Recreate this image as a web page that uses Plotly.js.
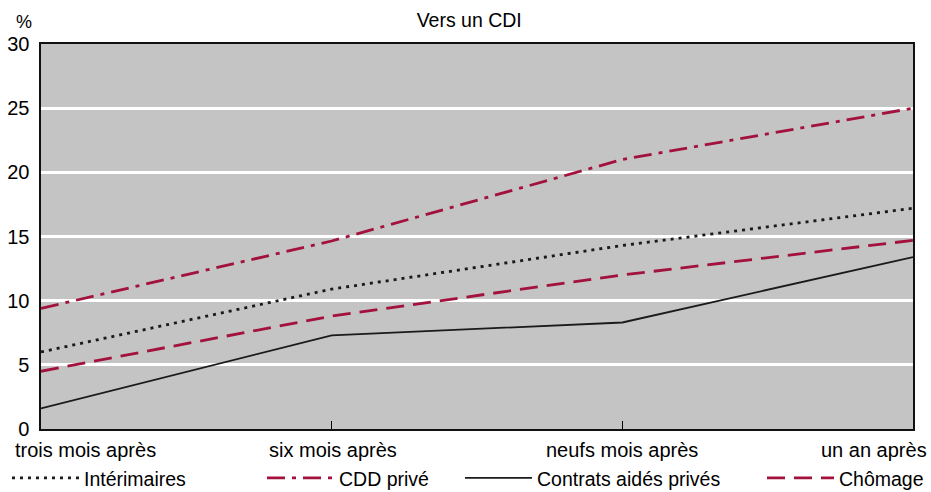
<!DOCTYPE html>
<html><head><meta charset="utf-8">
<script src="https://cdn.plot.ly/plotly-3.0.1.min.js"></script>
<style>body{margin:0;background:#fff}#c{width:931px;height:492px}</style>
</head><body><div id="c"></div>
<script>
const categories = ["trois mois après","six mois après","neufs mois après","un an après"];
const interimaires = [6.0, 10.9, 14.3, 17.2];
const cddPrive = [9.4, 14.65, 21.0, 25.0];
const contratsAides = [1.6, 7.3, 8.3, 13.4];
const chomage = [4.5, 8.8, 12.0, 14.7];
const yTicks = [0,5,10,15,20,25,30];

const red = '#A3113D';
const xs = categories.map((c,i)=>i);
const traces = [
 {x:xs,y:interimaires,name:'Intérimaires',mode:'lines',legend:'legend',line:{color:'#1a1a1a',width:2.8,dash:'3px,5px'}},
 {x:xs,y:cddPrive,name:'CDD privé',mode:'lines',legend:'legend2',line:{color:red,width:2.8,dash:'18px,7px,4px,7px'}},
 {x:xs,y:contratsAides,name:'Contrats aidés privés',mode:'lines',legend:'legend3',line:{color:'#1a1a1a',width:1.8}},
 {x:xs,y:chomage,name:'Chômage',mode:'lines',legend:'legend4',line:{color:red,width:2.8,dash:'18px,9px'}}
];
const F = 'Liberation Sans, Arial, sans-serif';
const FS = 20;
function lab(i, anchor, shift){
  return {text:categories[i],xref:'x',yref:'paper',x:i,y:0,xanchor:anchor,yanchor:'top',xshift:shift,yshift:-8,showarrow:false,font:{size:FS,color:'#000',family:F}};
}
const annotations = [
 {text:'%',xref:'paper',yref:'paper',x:-0.0195,y:1.0,xanchor:'center',yanchor:'middle',yshift:22,showarrow:false,font:{size:18,color:'#000',family:F}},
 lab(0,'left',-28), lab(1,'center',1), lab(2,'center',0), lab(3,'right',16)
];
function leg(xpx){
  return {orientation:'h',x:(xpx-41)/872,xanchor:'left',y:-0.128,yanchor:'middle',font:{size:19.5,family:F,color:'#000'},
          bgcolor:'rgba(0,0,0,0)',itemwidth:67};
}
const layout = {
 width:931,height:492,
 margin:{l:41,r:18,t:44,b:63,autoexpand:false},
 paper_bgcolor:'#fff',plot_bgcolor:'#C4C4C4',
 font:{family:F,size:FS,color:'#000'},
 title:{text:'Vers un CDI',x:0.504,xanchor:'center',y:0.96,yanchor:'middle',font:{size:19.5,family:F,color:'#000'}},
 showlegend:true,
 legend:leg(7), legend2:leg(262), legend3:leg(460), legend4:leg(762),
 xaxis:{range:[0,3],tickvals:xs,ticktext:['','','',''],ticks:'inside',ticklen:8,tickcolor:'#000',tickwidth:1.2,
   showgrid:false,zeroline:false,showline:true,linecolor:'#111',linewidth:1.6,mirror:true,fixedrange:true},
 yaxis:{range:[0,30],tickvals:yTicks,ticks:'',showgrid:true,gridcolor:'#fff',gridwidth:3,zeroline:false,
   showline:true,linecolor:'#111',linewidth:1.6,mirror:true,ticklabelstandoff:6,tickfont:{size:FS,family:F,color:'#000'},fixedrange:true},
 annotations:annotations
};
Plotly.newPlot('c',traces,layout,{displayModeBar:false,staticPlot:true});
</script></body></html>
